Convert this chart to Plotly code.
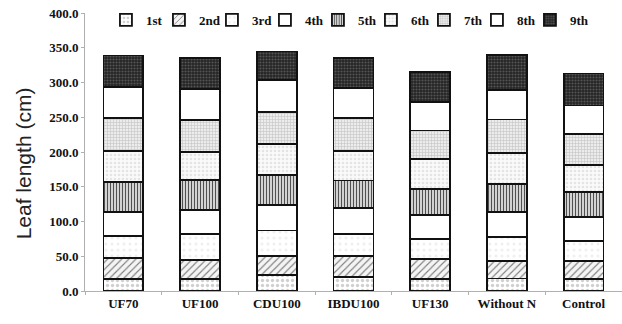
import plotly.graph_objects as go

categories = ["UF70", "UF100", "CDU100", "IBDU100", "UF130", "Without N", "Control"]
leaf_names = ["1st", "2nd", "3rd", "4th", "5th", "6th", "7th", "8th", "9th"]

leaf_1st = [17.5, 17.5, 22.7, 20.0, 17.5, 18.0, 17.5]
leaf_2nd = [29.5, 27.5, 27.3, 30.0, 28.1, 25.0, 25.5]
leaf_3rd = [32.5, 37.0, 37.0, 32.0, 29.4, 34.6, 29.0]
leaf_4th = [34.5, 35.0, 37.0, 37.0, 34.0, 36.4, 35.0]
leaf_5th = [42.5, 43.0, 43.0, 40.0, 38.0, 40.0, 35.0]
leaf_6th = [44.5, 40.0, 44.0, 42.0, 43.0, 44.0, 39.0]
leaf_7th = [48.0, 45.7, 46.6, 48.0, 41.0, 48.7, 44.6]
leaf_8th = [44.4, 45.3, 46.4, 43.0, 41.0, 43.0, 41.2]
leaf_9th = [45.4, 44.0, 40.6, 43.0, 43.0, 50.1, 46.2]

series = [leaf_1st, leaf_2nd, leaf_3rd, leaf_4th, leaf_5th,
          leaf_6th, leaf_7th, leaf_8th, leaf_9th]

# (pattern shape, fg color, bg color, size, solidity)
styles = [
    (".", "#d0d0d0", "#ffffff", 5, 0.35),
    ("/", "#808080", "#f4f4f4", 5, 0.22),
    (".", "#f0f0f0", "#ffffff", 6, 0.2),
    ("", "#ffffff", "#ffffff", 6, 0.2),
    ("|", "#505050", "#e0e0e0", 3, 0.4),
    (".", "#e4e4e4", "#fafafa", 4, 0.3),
    ("+", "#c4c4c4", "#ececec", 3, 0.35),
    ("", "#ffffff", "#ffffff", 6, 0.2),
    (".", "#555555", "#242424", 3, 0.4),
]

fig = go.Figure()
for i, (name, vals, st) in enumerate(zip(leaf_names, series, styles)):
    shape, fg, bg, size, sol = st
    extra = {}
    if i == len(leaf_names) - 1:
        extra["legendwidth"] = 30
    fig.add_trace(go.Bar(
        x=categories, y=vals, name=name,
        marker=dict(
            color=bg,
            line=dict(color="#111111", width=1.8),
            pattern=dict(shape=shape, fgcolor=fg, bgcolor=bg, size=size,
                         solidity=sol, fillmode="replace"),
        ),
        **extra,
    ))

serif = "Liberation Serif"
fig.update_layout(
    barmode="stack",
    bargap=0.48,
    width=622, height=324,
    margin=dict(l=85, r=0, t=13, b=33),
    plot_bgcolor="white", paper_bgcolor="white",
    showlegend=True,
    legend=dict(
        orientation="h", x=0.039, y=0.975, xanchor="left", yanchor="middle",
        font=dict(family=serif, size=13, color="#111111", weight="bold"),
        traceorder="normal", itemwidth=30,
        entrywidth=8, entrywidthmode="pixels",
        bgcolor="rgba(0,0,0,0)",
    ),
    xaxis=dict(
        showline=True, linecolor="#b0b0b0", linewidth=1,
        ticks="outside", tickson="boundaries", ticklen=3, tickcolor="#b0b0b0",
        tickfont=dict(family=serif, size=13, color="#111111", weight="bold"),
    ),
    yaxis=dict(
        range=[0, 400], dtick=50, tickformat=".1f",
        showline=True, linecolor="#b0b0b0", linewidth=1,
        ticks="outside", ticklen=3, tickcolor="#b0b0b0",
        showgrid=False, zeroline=False,
        tickfont=dict(family=serif, size=13, color="#111111", weight="bold"),
    ),
    annotations=[dict(
        text="Leaf length (cm)", textangle=-90,
        xref="paper", yref="paper", x=-0.115, y=0.46,
        xanchor="center", yanchor="middle", showarrow=False,
        font=dict(family="Liberation Sans", size=21, color="#222222"),
    )],
)

fig.write_html("out.html", config={"displayModeBar": False},
               post_script="document.body.style.margin='0';")
